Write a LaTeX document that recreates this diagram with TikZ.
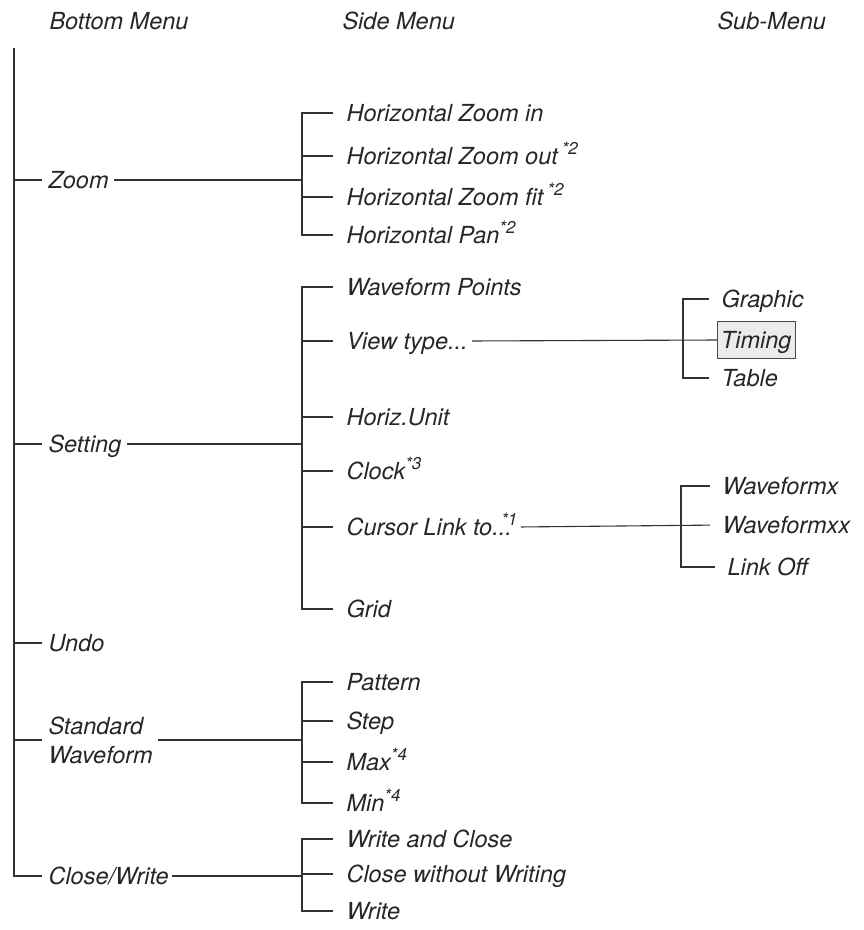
\documentclass[tikz,border=0pt]{standalone}
\usepackage{fontspec}
\setmainfont{TeX Gyre Heros}
\usetikzlibrary{calc, positioning}

\newcommand{\supnote}[1]{\raisebox{10.5pt}{\fontsize{17}{17}\selectfont #1}}
\newcommand{\tdots}{...}

\begin{document}
\begin{tikzpicture}[x=1pt, y=-1pt, line width=1.1pt, color=black!80,
    every node/.style={font=\fontsize{23.5}{29}\selectfont\itshape, text=black!85, inner sep=0pt},
    lbl/.style={anchor=west, text height=17pt, text depth=0pt},
    twig/.style={shorten >=6pt},
    stub/.style={shorten >=13pt},
    substub/.style={shorten >=12pt}]
    \useasboundingbox (0,0) rectangle (863,930);

    % Kopfzeile
    \node[lbl] (hbot) at (49,21) {Bottom Menu};
    \node[lbl] (hside) at (342,21) {Side Menu};
    \node[lbl] (hsub) at (717,21) {Sub-Menu};

    % Bottom Menu
    \node[lbl] (zm) at (48,180) {Zoom};
    \node[lbl] (set) at (48,444) {Setting};
    \node[lbl] (und) at (48,643) {Undo};
    \node[anchor=west, align=left] (std) at (48,740) {Standard\\Waveform};
    \node[lbl] (cw) at (48,876) {Close/Write};

    \coordinate (top) at (14,48);
    \coordinate (bs) at (302,0);
    \coordinate (bv) at (683,0);
    \coordinate (bc) at (681,0);

    \draw[twig] (top) -- (top |- cw.west) -- (cw.west);
    \foreach \n in {zm,set,und,std} {
        \draw[twig] (top |- \n.west) -- (\n.west);
    }

    % Side Menu
    \foreach \y/\t [count=\i] in {113/Horizontal Zoom in, 156/Horizontal Zoom out\,\supnote{*2},
        197/Horizontal Zoom fit\,\supnote{*2}, 235/Horizontal Pan\supnote{*2}} {
        \node[lbl] (z\i) at (346,\y) {\t};
    }
    \foreach \y/\t [count=\i] in {287/Waveform Points, 341/View type\tdots, 417/Horiz.Unit,
        471/Clock\supnote{*3}, 527/Cursor Link to\tdots\kern-.45em\supnote{*1}, 609/Grid} {
        \node[lbl] (s\i) at (346,\y) {\t};
    }
    \foreach \y/\t [count=\i] in {682/Pattern, 721/Step, 762/Max\supnote{*4}, 803/Min\supnote{*4}} {
        \node[lbl] (w\i) at (346,\y) {\t};
    }
    \foreach \y/\t [count=\i] in {839/Write and Close, 874/Close without Writing, 911/Write} {
        \node[lbl] (c\i) at (346,\y) {\t};
    }

    % Klammern Side Menu
    \draw[stub, shorten <=13pt] (z1.west) -- (bs |- z1.west) -- (bs |- z4.west) -- (z4.west);
    \foreach \i in {2,3} \draw[stub] (bs |- z\i.west) -- (z\i.west);
    \draw[stub, shorten <=13pt] (s1.west) -- (bs |- s1.west) -- (bs |- s6.west) -- (s6.west);
    \foreach \i in {2,3,4,5} \draw[stub] (bs |- s\i.west) -- (s\i.west);
    \draw[stub, shorten <=13pt] (w1.west) -- (bs |- w1.west) -- (bs |- w4.west) -- (w4.west);
    \foreach \i in {2,3} \draw[stub] (bs |- w\i.west) -- (w\i.west);
    \draw[stub, shorten <=13pt] (c1.west) -- (bs |- c1.west) -- (bs |- c3.west) -- (c3.west);
    \draw[stub] (bs |- c2.west) -- (c2.west);

    \draw[shorten <=5pt] (zm.east) -- (bs |- zm.east);
    \draw[shorten <=5pt] (set.east) -- (bs |- set.east);
    \draw[shorten <=5pt] (std.east) -- (bs |- std.east);
    \draw[shorten <=3pt] (cw.east) -- (bs |- cw.east);

    % Sub-Menu
    \node[lbl] (v1) at (721,299) {Graphic};
    \node[lbl, draw=black!70, fill=black!8, line width=0.9pt, inner xsep=3.5pt,
        minimum height=37pt] (tim) at (717,340) {Timing};
    \node[lbl] (v3) at (721,378) {Table};
    \node[lbl] (x1) at (722,486) {Waveformx};
    \node[lbl] (x2) at (722,525) {Waveformxx};
    \node[lbl] (x3) at (727,567) {Link Off};

    \draw[substub, shorten <=12pt] (v1.west) -- (bv |- v1.west) -- (bv |- v3.west) -- (v3.west);
    \draw[shorten <=4pt] (s2.east) -- (tim.west);
    \draw[substub, shorten <=12pt] (x1.west) -- (bc |- x1.west) -- (bc |- x3.west) -- (x3.west);
    \draw[shorten <=3pt, shorten >=12pt] (s5.east) -- (x2.west);
\end{tikzpicture}
\end{document}
